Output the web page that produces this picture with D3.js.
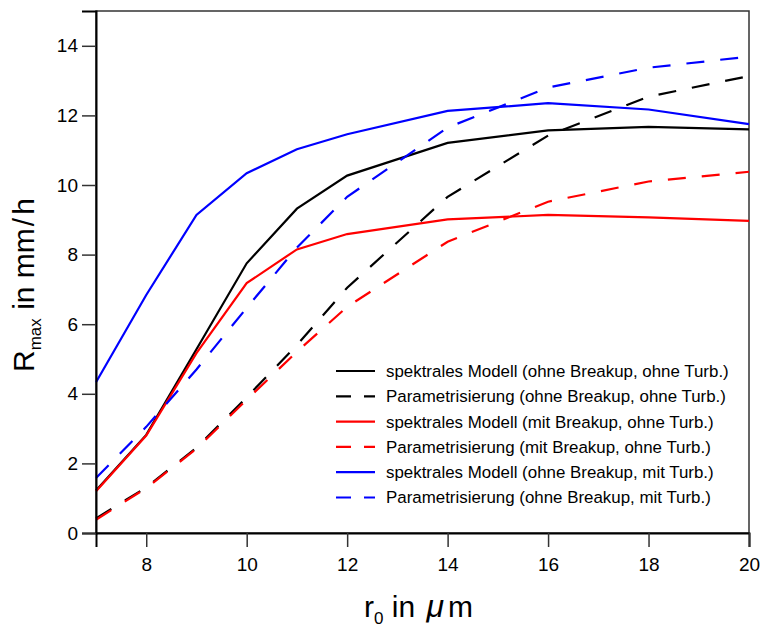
<!DOCTYPE html>
<html>
<head>
<meta charset="utf-8">
<script src="https://cdn.jsdelivr.net/npm/d3@7"></script>
<style>
  body { margin: 0; background: #fff; }
  svg text { font-family: "Liberation Sans", Arial, sans-serif; fill: #000; }
</style>
</head>
<body>
<script>
// data
const r0 = [7, 8, 9, 10, 11, 12, 14, 16, 18, 20];

const specOhneOhne = [1.22, 2.82, 5.28, 7.75, 9.32, 10.27, 11.21, 11.57, 11.67, 11.6];
const paraOhneOhne = [0.42, 1.31, 2.45, 3.9, 5.4, 7.05, 9.66, 11.42, 12.54, 13.13];
const specMitOhne = [1.2, 2.8, 5.17, 7.18, 8.15, 8.59, 9.01, 9.14, 9.07, 8.97];
const paraMitOhne = [0.38, 1.29, 2.42, 3.83, 5.21, 6.5, 8.37, 9.52, 10.1, 10.38];
const specOhneMit = [4.33, 6.84, 9.14, 10.34, 11.03, 11.46, 12.13, 12.35, 12.17, 11.75];
const paraOhneMit = [1.58, 3.05, 4.7, 6.47, 8.2, 9.66, 11.65, 12.8, 13.37, 13.69];

const xTicks = [8, 10, 12, 14, 16, 18, 20];
const yTicks = [0, 2, 4, 6, 8, 10, 12, 14];

const series = [
  { name: "spektrales Modell (ohne Breakup, ohne Turb.)", values: specOhneOhne, color: "#000", dashed: false },
  { name: "Parametrisierung (ohne Breakup, ohne Turb.)", values: paraOhneOhne, color: "#000", dashed: true },
  { name: "spektrales Modell (mit Breakup, ohne Turb.)", values: specMitOhne, color: "#ff0000", dashed: false },
  { name: "Parametrisierung (mit Breakup, ohne Turb.)", values: paraMitOhne, color: "#ff0000", dashed: true },
  { name: "spektrales Modell (ohne Breakup, mit Turb.)", values: specOhneMit, color: "#0000ff", dashed: false },
  { name: "Parametrisierung (ohne Breakup, mit Turb.)", values: paraOhneMit, color: "#0000ff", dashed: true }
];

// layout
const width = 762, height = 630;
const margin = { left: 96, right: 13, top: 11, bottom: 97 };

const svg = d3.select("body").append("svg")
  .attr("width", width)
  .attr("height", height);

const x = d3.scaleLinear().domain([7, 20]).range([margin.left, width - margin.right]);
const y = d3.scaleLinear().domain([0, 15]).range([height - margin.bottom, margin.top]);

// frame
svg.append("rect")
  .attr("x", x(7)).attr("y", y(15))
  .attr("width", x(20) - x(7)).attr("height", y(0) - y(15))
  .attr("fill", "none").attr("stroke", "#333").attr("stroke-width", 1.5);

// curves
const line = d3.line().x((d, i) => x(r0[i])).y(d => y(d));

svg.append("g").selectAll("path")
  .data(series)
  .join("path")
  .attr("d", d => line(d.values))
  .attr("fill", "none")
  .attr("stroke", d => d.color)
  .attr("stroke-width", 2.2)
  .attr("stroke-dasharray", d => d.dashed ? "18,16" : null);

// axes
const xAxis = svg.append("g")
  .attr("transform", `translate(0,${y(0)})`)
  .call(d3.axisBottom(x).tickValues(xTicks).tickSize(14).tickPadding(11).tickFormat(d3.format("d")));
const yAxis = svg.append("g")
  .attr("transform", `translate(${x(7)},0)`)
  .call(d3.axisLeft(y).tickValues(yTicks).tickSize(14).tickPadding(4).tickFormat(d3.format("d")));

[xAxis, yAxis].forEach(a => {
  a.select(".domain").attr("stroke", "#000").attr("stroke-width", 2);
  a.selectAll(".tick line").attr("stroke", "#333").attr("stroke-width", 1.5);
  a.selectAll(".tick text").attr("font-size", 19).attr("fill", "#000")
    .attr("font-family", "Liberation Sans, Arial, sans-serif");
});

// axis titles
const yt = svg.append("text")
  .attr("transform", "translate(34,372) rotate(-90)")
  .attr("font-size", 30);
yt.append("tspan").text("R");
yt.append("tspan").attr("font-size", 17).attr("dy", 7).text("max");
yt.append("tspan").attr("dy", -7).text(" in mm");
yt.append("tspan").attr("dx", 2).text("/");
yt.append("tspan").attr("dx", 3).text("h");

const xt = svg.append("text")
  .attr("x", 364)
  .attr("y", 617)
  .attr("font-size", 30);
xt.append("tspan").text("r");
xt.append("tspan").attr("font-size", 17).attr("dy", 7).text("0");
xt.append("tspan").attr("dy", -7).text(" in ");
xt.append("tspan").attr("dx", 3).attr("font-style", "italic").attr("font-size", 32).text("\u03bc");
xt.append("tspan").attr("dx", 4).text("m");

// legend
const legend = svg.append("g").attr("transform", "translate(336,371)");
const row = legend.selectAll("g")
  .data(series)
  .join("g")
  .attr("transform", (d, i) => `translate(0,${i * 25.3})`);
row.append("line")
  .attr("x1", 0).attr("x2", 39)
  .attr("stroke", d => d.color)
  .attr("stroke-width", 2.2)
  .attr("stroke-dasharray", d => d.dashed ? "15,13" : null);
row.append("text")
  .attr("x", 50)
  .attr("dy", "0.35em")
  .attr("font-size", 16.9)
  .text(d => d.name);
</script>
</body>
</html>
